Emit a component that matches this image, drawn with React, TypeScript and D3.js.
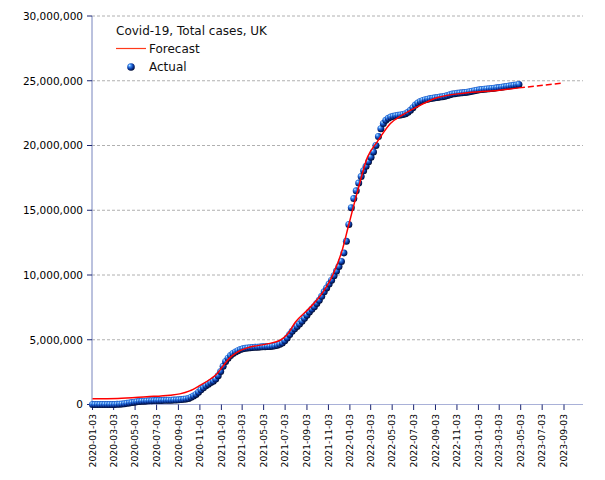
import { useEffect } from "react";
import * as d3 from "d3";

// weekly actual totals (millions), starting 2020-01-03
const actualStart = "2020-01-03";
const actualWeekly = [
  0, 0, 0, 0, 0, 0, 0, 0, 0, 0,
  0.01, 0.02, 0.04, 0.06, 0.09, 0.12, 0.15, 0.18, 0.21, 0.23,
  0.25, 0.26, 0.27, 0.28, 0.29, 0.3, 0.3, 0.31, 0.31, 0.32,
  0.32, 0.33, 0.33, 0.34, 0.35, 0.36, 0.38, 0.4, 0.43, 0.47,
  0.56, 0.66, 0.78, 0.95, 1.13, 1.29, 1.44, 1.57, 1.69, 1.8,
  1.96, 2.22, 2.55, 2.95, 3.33, 3.58, 3.78, 3.94, 4.06, 4.16,
  4.24, 4.3, 4.34, 4.37, 4.39, 4.41, 4.42, 4.43, 4.44, 4.45,
  4.46, 4.47, 4.48, 4.5, 4.53, 4.58, 4.65, 4.75, 4.92, 5.13,
  5.4, 5.65, 5.85, 6.03, 6.22, 6.43, 6.66, 6.9, 7.15, 7.35,
  7.55, 7.8, 8.05, 8.35, 8.7, 9.0, 9.3, 9.6, 9.95, 10.3,
  10.65, 11.05, 11.7, 12.6, 13.9, 15.2, 15.9, 16.5, 17.1, 17.6,
  18.05, 18.4, 18.75, 19.1, 19.5, 20.0, 20.7, 21.3, 21.7, 21.95,
  22.1, 22.2, 22.25, 22.3, 22.33, 22.36, 22.4, 22.46, 22.56, 22.72,
  22.92, 23.12, 23.28, 23.4, 23.48, 23.54, 23.58, 23.62, 23.65, 23.68,
  23.71, 23.74, 23.77, 23.81, 23.86, 23.92, 23.97, 24.0, 24.03, 24.05,
  24.07, 24.09, 24.12, 24.15, 24.19, 24.23, 24.27, 24.3, 24.33, 24.35,
  24.37, 24.39, 24.41, 24.43, 24.45, 24.47, 24.5, 24.53, 24.56, 24.59,
  24.62, 24.65, 24.68, 24.72,
];

// forecast curve (millions)
const forecastDates = [
  "2020-01-03", "2020-03-15", "2020-06-05", "2020-08-10", "2020-09-07",
  "2020-10-05", "2020-11-03", "2020-12-01", "2020-12-21", "2021-01-07",
  "2021-01-27", "2021-02-16", "2021-03-17", "2021-05-13", "2021-06-19",
  "2021-07-09", "2021-08-01", "2021-09-12", "2021-10-19", "2021-11-17",
  "2021-12-13", "2021-12-30", "2022-01-24", "2022-02-22", "2022-03-22",
  "2022-04-28", "2022-06-04", "2022-07-14", "2022-09-09", "2022-11-22",
  "2023-02-27", "2023-04-28", "2023-08-25",
];
const forecastValues = [
  0.45, 0.47, 0.6, 0.72, 0.82,
  1.05, 1.47, 1.93, 2.35, 2.95,
  3.6, 4.03, 4.37, 4.68, 4.96,
  5.4, 6.35, 7.5, 8.7, 10.1,
  12.0, 13.8, 16.4, 19.1, 20.3,
  21.7, 22.4, 23.0, 23.7, 24.04,
  24.25, 24.45, 24.8,
];

const yTicks = [0, 5e6, 10e6, 15e6, 20e6, 25e6, 30e6];
const xTickDates = d3.range(0, 45, 2).map((m) => new Date(2020, m, 3));

const W = 605;
const H = 480;
const font = "DejaVu Sans, sans-serif";

export default function App() {
  useEffect(() => {
    document.body.style.margin = "0";
  }, []);

  const parse = d3.timeParse("%Y-%m-%d");
  const fmtTick = d3.timeFormat("%Y-%m-%d");
  const start = parse(actualStart)!;

  const actual = actualWeekly.map((v, i) => ({
    date: d3.timeDay.offset(start, 7 * i),
    value: v * 1e6,
  }));
  const forecast = forecastDates.map((d, i) => ({
    date: parse(d)!,
    value: forecastValues[i] * 1e6,
  }));

  const x = d3
    .scaleTime()
    .domain([new Date(2020, 0, 3), new Date(2023, 8, 3)])
    .range([92.5, 564]);
  const y = d3.scaleLinear().domain([0, 30e6]).range([404.5, 16]);
  const xEnd = 583;

  const line = d3
    .line<{ date: Date; value: number }>()
    .x((d) => x(d.date))
    .y((d) => y(d.value))
    .curve(d3.curveMonotoneX);

  const lastActual = actual[actual.length - 1].date;
  const solidPart = forecast.filter((d) => d.date <= lastActual);
  const idx = solidPart.length;
  const dashedPart = forecast.slice(idx - 1);

  const fmtNum = d3.format(",");

  return (
    <svg width={W} height={H} style={{ display: "block", background: "#fff" }}>
      <defs>
        <radialGradient id="ball" cx="42%" cy="38%" r="62%" fx="30%" fy="28%">
          <stop offset="0%" stopColor="#d6f2ff" />
          <stop offset="28%" stopColor="#3d8ef5" />
          <stop offset="65%" stopColor="#0a3aa6" />
          <stop offset="100%" stopColor="#000a30" />
        </radialGradient>
      </defs>

      {/* grid */}
      {yTicks
        .filter((t) => t > 0)
        .map((t) => (
          <line
            key={"g" + t}
            x1={92}
            x2={xEnd}
            y1={y(t)}
            y2={y(t)}
            stroke="#b0b0b0"
            strokeWidth={1}
            strokeDasharray="3,2"
          />
        ))}

      {/* axes */}
      <line x1={92} x2={92} y1={16} y2={404.5} stroke="#7784bd" strokeWidth={1} />
      <line x1={92} x2={xEnd} y1={404.5} y2={404.5} stroke="#a9b1d8" strokeWidth={1} />

      {yTicks.map((t) => (
        <g key={"y" + t}>
          <line x1={87} x2={92} y1={y(t)} y2={y(t)} stroke="#1a2470" strokeWidth={1} />
          <text
            x={83}
            y={y(t)}
            dy="0.36em"
            textAnchor="end"
            fontFamily={font}
            fontSize={10.5}
            fill="#000"
          >
            {fmtNum(t)}
          </text>
        </g>
      ))}

      {xTickDates.map((d) => (
        <g key={"x" + d.getTime()}>
          <line x1={x(d)} x2={x(d)} y1={404.5} y2={410} stroke="#1a2470" strokeWidth={1} />
          <text
            transform={`translate(${x(d)},414) rotate(-90)`}
            dy="0.35em"
            textAnchor="end"
            fontFamily={font}
            fontSize={9.2}
            fill="#000"
          >
            {fmtTick(d)}
          </text>
        </g>
      ))}

      {/* actual */}
      {actual.map((d, i) => (
        <circle key={"a" + i} cx={x(d.date)} cy={y(d.value)} r={3.5} fill="url(#ball)" />
      ))}

      {/* forecast */}
      <path d={line(solidPart) || ""} fill="none" stroke="#ff0000" strokeWidth={1.5} />
      <path
        d={line(dashedPart) || ""}
        fill="none"
        stroke="#ff0000"
        strokeWidth={1.5}
        strokeDasharray="6,3"
      />

      {/* legend */}
      <text x={116} y={35} fontFamily={font} fontSize={12} fill="#111">
        Covid-19, Total cases, UK
      </text>
      <line x1={116} x2={146} y1={48.5} y2={48.5} stroke="#ff3a1a" strokeWidth={1.2} />
      <text x={149} y={53} fontFamily={font} fontSize={12} fill="#111">
        Forecast
      </text>
      <circle cx={131} cy={67} r={3.8} fill="url(#ball)" />
      <text x={149} y={71} fontFamily={font} fontSize={12} fill="#111">
        Actual
      </text>
    </svg>
  );
}
